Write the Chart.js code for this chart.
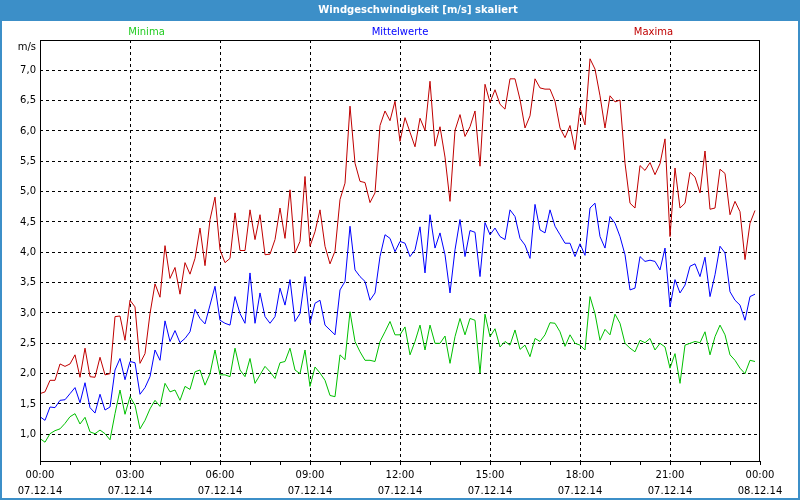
<!DOCTYPE html>
<html>
<head>
<meta charset="utf-8">
<title>Windgeschwindigkeit [m/s] skaliert</title>
<script src="https://cdn.jsdelivr.net/npm/chart.js@4.4.1/dist/chart.umd.min.js"></script>
<style>
  html, body { margin: 0; padding: 0; background: #fff; }
  canvas { display: block; }
</style>
</head>
<body>
<canvas id="wind" width="800" height="500"></canvas>
<script>
// ---- Data: 10-minute values, 07.12.14 00:00 .. 23:50 ----
var minima = [
  0.93, 0.87, 1.01, 1.06, 1.09, 1.18, 1.29, 1.34, 1.17, 1.28, 1.04, 1.01,
  1.07, 1.01, 0.91, 1.34, 1.73, 1.33, 1.62, 1.48, 1.09, 1.23, 1.42, 1.56,
  1.46, 1.84, 1.70, 1.73, 1.56, 1.79, 1.74, 2.03, 2.06, 1.81, 2.00, 2.39,
  1.98, 1.98, 1.95, 2.42, 2.06, 1.95, 2.25, 1.84, 1.98, 2.12, 2.03, 1.92,
  2.18, 2.20, 2.42, 2.06, 2.00, 2.39, 1.79, 2.11, 2.01, 1.89, 1.64, 1.62,
  2.31, 2.23, 3.02, 2.53, 2.36, 2.22, 2.22, 2.20, 2.53, 2.69, 2.86, 2.64,
  2.64, 2.77, 2.31, 2.53, 2.80, 2.39, 2.80, 2.50, 2.50, 2.62, 2.17, 2.61,
  2.91, 2.64, 2.91, 2.88, 2.01, 2.98, 2.61, 2.74, 2.44, 2.53, 2.47, 2.72,
  2.40, 2.47, 2.28, 2.58, 2.53, 2.64, 2.84, 2.83, 2.69, 2.45, 2.64, 2.50,
  2.47, 2.39, 3.27, 2.99, 2.55, 2.73, 2.64, 2.98, 2.83, 2.50, 2.42, 2.36,
  2.55, 2.51, 2.58, 2.39, 2.50, 2.44, 2.09, 2.33, 1.84, 2.47, 2.50, 2.53,
  2.51, 2.69, 2.31, 2.61, 2.80, 2.64, 2.31, 2.22, 2.09, 2.00, 2.22, 2.20
];

var mittelwerte = [
  1.29, 1.23, 1.45, 1.44, 1.56, 1.57, 1.67, 1.77, 1.52, 1.85, 1.44, 1.35,
  1.66, 1.40, 1.45, 2.06, 2.25, 1.90, 2.20, 2.18, 1.66, 1.77, 1.95, 2.39,
  2.22, 2.87, 2.53, 2.71, 2.51, 2.58, 2.69, 3.06, 2.91, 2.82, 3.13, 3.44,
  2.88, 2.83, 2.80, 3.27, 2.99, 2.83, 3.66, 2.83, 3.33, 2.94, 2.83, 2.94,
  3.41, 3.13, 3.55, 2.86, 2.99, 3.60, 2.83, 3.16, 3.21, 2.80, 2.72, 2.64,
  3.38, 3.52, 4.43, 3.71, 3.60, 3.52, 3.21, 3.33, 3.93, 4.29, 4.23, 4.01,
  4.18, 4.15, 3.93, 4.04, 4.42, 3.66, 4.62, 4.07, 4.32, 3.96, 3.33, 4.04,
  4.54, 3.93, 4.36, 4.33, 3.60, 4.49, 4.29, 4.40, 4.26, 4.21, 4.70, 4.59,
  4.23, 4.12, 3.90, 4.79, 4.37, 4.32, 4.70, 4.43, 4.29, 4.15, 4.15, 3.93,
  4.14, 3.95, 4.73, 4.81, 4.26, 4.07, 4.59, 4.48, 4.26, 3.96, 3.38, 3.41,
  3.93, 3.85, 3.87, 3.85, 3.71, 4.07, 3.10, 3.55, 3.33, 3.46, 3.77, 3.81,
  3.60, 3.92, 3.27, 3.63, 4.10, 3.99, 3.35, 3.21, 3.13, 2.88, 3.27, 3.31
];

var maxima = [
  1.67, 1.70, 1.89, 1.89, 2.16, 2.12, 2.16, 2.31, 1.94, 2.42, 1.95, 1.94,
  2.27, 1.98, 2.00, 2.94, 2.95, 2.55, 3.21, 3.10, 2.17, 2.33, 2.99, 3.48,
  3.26, 4.11, 3.57, 3.75, 3.31, 3.83, 3.64, 3.90, 4.40, 3.78, 4.54, 4.91,
  4.04, 3.83, 3.90, 4.65, 4.03, 4.03, 4.70, 4.21, 4.62, 3.96, 3.97, 4.21,
  4.73, 4.23, 5.03, 3.99, 4.18, 5.25, 4.10, 4.34, 4.70, 4.10, 3.81, 4.02,
  4.87, 5.14, 6.41, 5.47, 5.17, 5.15, 4.82, 4.98, 6.09, 6.33, 6.17, 6.49,
  5.83, 6.22, 5.98, 5.74, 6.21, 6.01, 6.82, 5.75, 6.07, 5.57, 4.84, 6.01,
  6.27, 5.91, 6.07, 6.33, 5.42, 6.77, 6.47, 6.68, 6.44, 6.36, 6.86, 6.86,
  6.52, 6.05, 6.25, 6.86, 6.71, 6.69, 6.69, 6.49, 6.05, 5.89, 6.09, 5.69,
  6.38, 6.10, 7.19, 7.02, 6.58, 6.05, 6.58, 6.48, 6.51, 5.47, 4.81, 4.73,
  5.43, 5.35, 5.48, 5.28, 5.46, 5.87, 4.26, 5.39, 4.73, 4.81, 5.32, 5.24,
  4.98, 5.67, 4.71, 4.73, 5.37, 5.30, 4.62, 4.84, 4.67, 3.88, 4.48, 4.69
];

// x tick labels, one pair every 3 hours
var timeLabels = ['00:00', '03:00', '06:00', '09:00', '12:00', '15:00', '18:00', '21:00', '00:00'];
var dateLabels = ['07.12.14', '07.12.14', '07.12.14', '07.12.14', '07.12.14', '07.12.14', '07.12.14', '07.12.14', '08.12.14'];

var TITLE = 'Windgeschwindigkeit [m/s] skaliert';
var UNIT = 'm/s';

var FONT = "'DejaVu Sans', sans-serif";
var FRAME_BLUE = '#3c8fc8';

// 10-minute samples -> hours on the x axis
function toPoints(values) {
  return values.map(function (v, i) { return { x: i / 6, y: v }; });
}

// ---- Frame, title bar, legend texts, unit label ----
var framePlugin = {
  id: 'frame',
  beforeDraw: function (chart) {
    var ctx = chart.ctx;
    ctx.save();
    ctx.fillStyle = '#ffffff';
    ctx.fillRect(0, 0, chart.width, chart.height);
    ctx.fillStyle = FRAME_BLUE;
    ctx.fillRect(0, 0, chart.width, 21);
    ctx.font = 'bold 10px ' + FONT;
    ctx.fillStyle = '#ffffff';
    ctx.textAlign = 'center';
    ctx.textBaseline = 'middle';
    ctx.fillText(TITLE, 418, 10.5);
    ctx.restore();
  },
  afterDraw: function (chart) {
    var ctx = chart.ctx;
    var a = chart.chartArea;
    ctx.save();
    // plot border
    ctx.strokeStyle = '#000000';
    ctx.lineWidth = 1;
    ctx.strokeRect(a.left + 0.5, a.top + 0.5, a.right - a.left - 1, a.bottom - a.top);
    // window border
    ctx.strokeStyle = FRAME_BLUE;
    ctx.lineWidth = 2;
    ctx.beginPath();
    ctx.moveTo(1, 20);
    ctx.lineTo(1, chart.height - 1);
    ctx.lineTo(chart.width - 1, chart.height - 1);
    ctx.lineTo(chart.width - 1, 20);
    ctx.stroke();
    // series names above the plot
    ctx.font = '10px ' + FONT;
    ctx.textAlign = 'center';
    ctx.textBaseline = 'middle';
    var spots = [0.148, 0.5, 0.852];
    var w = a.right - a.left;
    chart.data.datasets.forEach(function (ds, i) {
      ctx.fillStyle = ds.textColor;
      ctx.fillText(ds.label, a.left + w * spots[i], 32);
    });
    // unit
    ctx.fillStyle = '#000000';
    ctx.textAlign = 'right';
    ctx.fillText(UNIT, 36, 47);
    ctx.restore();
  }
};

Chart.defaults.font.family = FONT;
Chart.defaults.font.size = 10;
Chart.defaults.color = '#000000';

new Chart(document.getElementById('wind'), {
  type: 'line',
  data: {
    datasets: [
      {
        label: 'Minima',
        data: toPoints(minima),
        borderColor: '#00c000',
        textColor: '#22cc22',
        borderWidth: 1,
        pointRadius: 0,
        tension: 0
      },
      {
        label: 'Mittelwerte',
        data: toPoints(mittelwerte),
        borderColor: '#0000ff',
        textColor: '#0000ff',
        borderWidth: 1,
        pointRadius: 0,
        tension: 0
      },
      {
        label: 'Maxima',
        data: toPoints(maxima),
        borderColor: '#c00000',
        textColor: '#c00000',
        borderWidth: 1,
        pointRadius: 0,
        tension: 0
      }
    ]
  },
  options: {
    responsive: false,
    animation: false,
    events: [],
    layout: { padding: { left: 0, top: 40, right: 40, bottom: 0 } },
    plugins: {
      legend: { display: false },
      title: { display: false },
      tooltip: { enabled: false }
    },
    scales: {
      x: {
        type: 'linear',
        min: 0,
        max: 24,
        afterFit: function (scale) { scale.height = 39; },
        border: { display: false, dash: [3, 3] },
        grid: {
          color: function (ctx) {
            var v = ctx.tick && ctx.tick.value;
            return (v % 3 === 0 && v !== 0 && v !== 24) ? '#000000' : 'rgba(0,0,0,0)';
          },
          tickColor: '#000000',
          tickLength: 4
        },
        ticks: {
          stepSize: 1,
          autoSkip: false,
          maxRotation: 0,
          padding: 2,
          font: { size: 10, lineHeight: '16px' },
          callback: function (value) {
            if (value % 3 !== 0) return '';
            var k = value / 3;
            return [timeLabels[k], dateLabels[k]];
          }
        }
      },
      y: {
        min: 0.56,
        max: 7.5,
        afterFit: function (scale) { scale.width = 40; },
        border: { display: false, dash: [3, 3] },
        grid: {
          drawTicks: false,
          color: function (ctx) {
            var v = ctx.tick && ctx.tick.value;
            return v > 7.25 ? 'rgba(0,0,0,0)' : '#000000';
          }
        },
        ticks: {
          stepSize: 0.5,
          includeBounds: false,
          padding: 4,
          callback: function (value) {
            if (value > 7.25) return '';
            return value.toFixed(1).replace('.', ',');
          }
        }
      }
    }
  },
  plugins: [framePlugin]
});
</script>
</body>
</html>
